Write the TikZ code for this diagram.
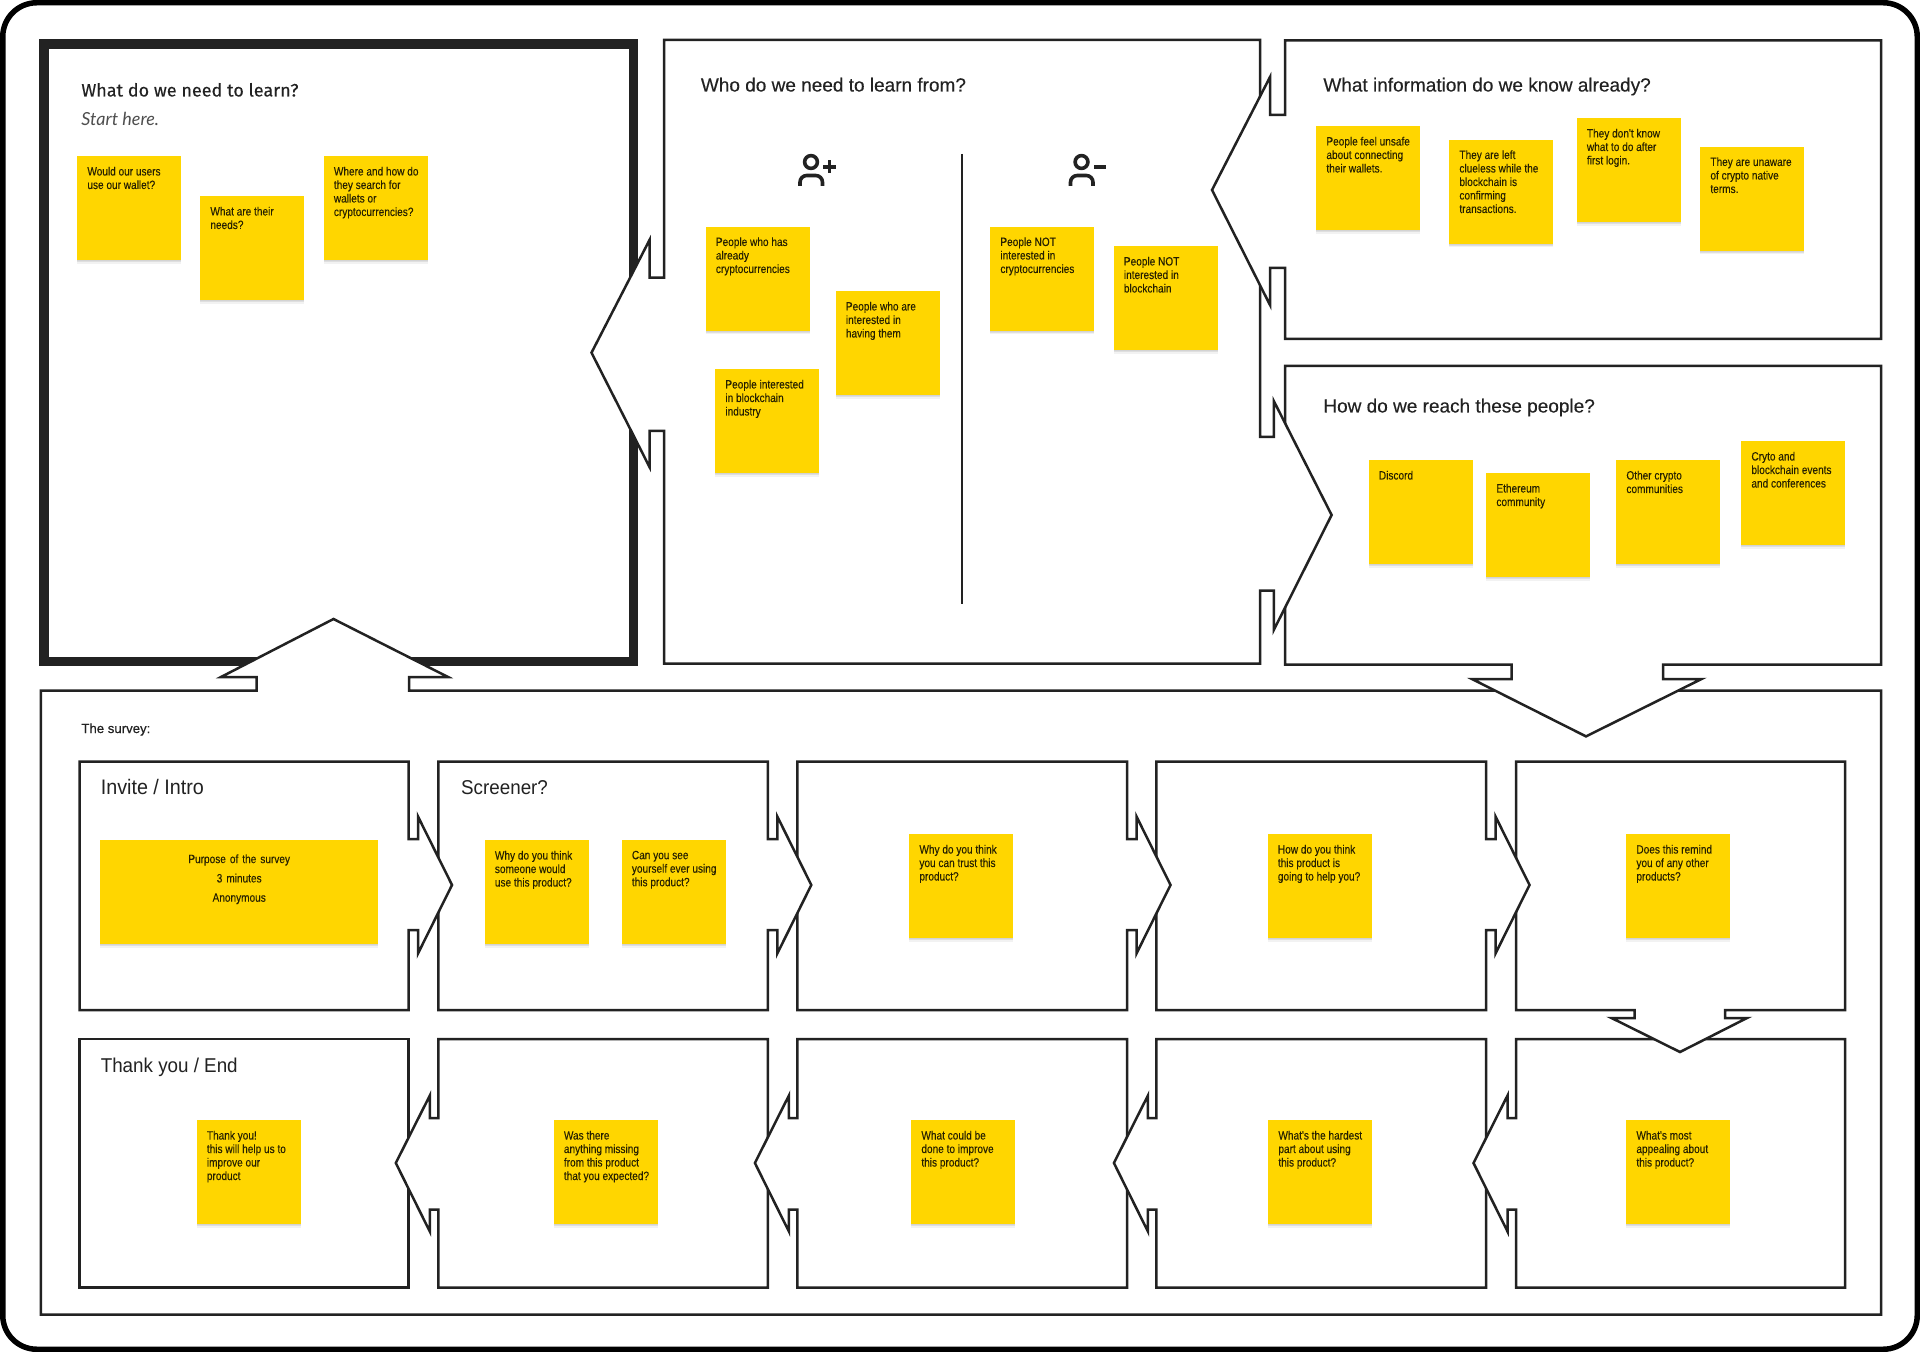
\documentclass[tikz,border=0pt]{standalone}
\usepackage{fontspec}
\usetikzlibrary{shadows}
\setmainfont{Liberation Sans}
\newfontfamily\condf[FakeStretch=0.84,FakeBold=0.12]{Liberation Sans}
\newfontfamily\headf[FakeStretch=0.94]{Liberation Sans}
\newfontfamily\medf[FakeBold=0.3]{Liberation Sans}
\newfontfamily\titilf[FakeBold=0.25]{Fira Sans}
\newfontfamily\startf{Lato}
\definecolor{stickyY}{HTML}{FFD600}
\definecolor{inkc}{HTML}{222222}
\tikzset{
  frameline/.style={draw=inkc,line width=1.25pt,fill=white,line join=miter},
  thickframe/.style={draw=inkc,line width=4.75pt,fill=white},
  stickybox/.style={fill=stickyY,inner sep=0pt,anchor=north west,minimum height=52pt,minimum width=52pt,
    general shadow={fill=black,opacity=.05,shadow xshift=0pt,shadow yshift=-.5pt},
    general shadow={fill=black,opacity=.08,shadow xshift=0pt,shadow yshift=-1pt},
    general shadow={fill=black,opacity=.05,shadow xshift=0pt,shadow yshift=-1.8pt}},
  stickytext/.style={anchor=north west,inner sep=0pt,align=left,text=black!85!stickyY,font=\condf\fontsize{6}{6.75}\selectfont},
  titletext/.style={anchor=base west,inner sep=0pt,text=inkc,font=\medf\fontsize{9.5}{11}\selectfont},
  smalltitle/.style={anchor=base west,inner sep=0pt,text=inkc,font=\headf\fontsize{10}{12}\selectfont},
  iconline/.style={draw=inkc,line width=1.8pt}
}
% \stk{name}{x}{y}{text}
\newcommand{\stk}[4]{%
  \node[stickybox] (#1) at (#2,#3) {};
  \node[stickytext] (#1t) at ([xshift=5pt,yshift=-5.2pt]#1.north west) {#4};
}
\newcommand{\rowbox}[2]{%
  \draw[frameline] (#1,761.5)--(#2,761.5)--(#2,839)--({#2+9.5},839)--({#2+9.5},816.5)--({#2+43.5},885)--({#2+9.5},953.5)--({#2+9.5},930)--(#2,930)--(#2,1010)--(#1,1010)--cycle;
}
\newcommand{\leftbox}[2]{%
  \draw[frameline] (#1,1039)--(#2,1039)--(#2,1287.5)--(#1,1287.5)--(#1,1209.5)--({#1-8.5},1209.5)--({#1-8.5},1231.5)--({#1-42.5},1163)--({#1-8.5},1095.5)--({#1-8.5},1118)--(#1,1118)--cycle;
}
\begin{document}
\begin{tikzpicture}[x=0.5pt,y=-0.5pt]
\useasboundingbox (0,0) rectangle (1920,1352);
\fill[white] (0,0) rectangle (1920,1352);
\draw[black,line width=2.75pt,rounded corners=17pt] (2.75,2.75) rectangle (1917.25,1349.25);

% thick box
\draw[thickframe] (44,44) rectangle (633.5,661.5);

% survey frame
\draw[frameline] (40.8,690.5)--(256.7,690.5)--(256.7,677)--(221,677)--(333.5,619)--(448,677)--(409,677)--(409,690.5)--(1881,690.5)--(1881,1314.5)--(40.8,1314.5)--cycle;

% how box
\draw[frameline] (1285,366)--(1881,366)--(1881,664.5)--(1663,664.5)--(1663,679)--(1701.5,679)--(1586,736.4)--(1472,679)--(1511.5,679)--(1511.5,664.5)--(1285,664.5)--cycle;

% who box
\draw[frameline] (664,40)--(1260,40)--(1260,437)--(1273.8,437)--(1273.8,401)--(1331.6,515)--(1273.8,630)--(1273.8,590.5)--(1260,590.5)--(1260,663.5)--(664,663.5)--(664,431)--(649.5,431)--(649.5,467)--(591.5,352.7)--(649.5,240)--(649.5,277.7)--(664,277.7)--cycle;

% info box
\draw[frameline] (1285,40.5)--(1881,40.5)--(1881,339)--(1285,339)--(1285,268)--(1270,268)--(1270,305)--(1212,190)--(1270,77)--(1270,115)--(1285,115)--cycle;

% survey row 2 (arrows point left)
\draw[frameline] (79.5,1039) rectangle (408.5,1287.5);
\leftbox{438.3}{767.8}
\leftbox{797.4}{1127}
\leftbox{1156.4}{1486}
\leftbox{1516}{1845}

% survey row 1, last box with down arrow
\draw[frameline] (1516,761.5)--(1845,761.5)--(1845,1010)--(1725,1010)--(1725,1018)--(1747,1018)--(1680,1052)--(1611.5,1018)--(1634.5,1018)--(1634.5,1010)--(1516,1010)--cycle;
\rowbox{1156.4}{1486}
\rowbox{797.4}{1127}
\rowbox{438.3}{767.8}
\rowbox{79.5}{408.5}

% divider
\coordinate (divtop) at (962,154);
\coordinate (divbot) at (962,604);
\draw[draw=inkc,line width=1pt] (divtop)--(divbot);

% icons
\draw[iconline] (811,162) circle (3.2pt);
\draw[iconline,rounded corners=3.4pt] (800,186)--(800,175.5)--(822.5,175.5)--(822.5,186);
\draw[iconline] (823,167)--(836,167) (829.5,160.5)--(829.5,173.5);
\draw[iconline] (1081.5,162) circle (3.2pt);
\draw[iconline,rounded corners=3.4pt] (1070.5,186)--(1070.5,175.5)--(1093,175.5)--(1093,186);
\draw[iconline] (1094,167)--(1106,167);

% titles
\node[titletext,font=\titilf\fontsize{9}{11}\selectfont] (t1) at (81,96.5) {What do we need to learn?};
\node[titletext,font=\startf\itshape\fontsize{9}{11}\selectfont,text=inkc!80] (t1b) at (81,125.5) {Start here.};
\node[titletext] (t2) at (700.5,91.5) {Who do we need to learn from?};
\node[titletext] (t3) at (1323,91.5) {What information do we know already?};
\node[titletext] (t4) at (1323,412.5) {How do we reach these people?};
\node[anchor=base west,inner sep=0pt,text=inkc,font=\medf\fontsize{6.6}{8}\selectfont] (t5) at (81,733) {The survey:};
\node[smalltitle,font=\headf\fontsize{10.5}{12}\selectfont] (t6) at (100.4,794) {Invite / Intro};
\node[smalltitle] (t7) at (460.8,794) {Screener?};
\node[smalltitle] (t8) at (100.4,1072) {Thank you / End};

% stickies
\stk{a1}{77}{156}{Would our users\\use our wallet?}
\stk{a2}{200}{196}{What are their\\needs?}
\stk{a3}{323.5}{156}{Where and how do\\they search for\\wallets or\\cryptocurrencies?}
\stk{p1}{705.5}{226.5}{People who has\\already\\cryptocurrencies}
\stk{p2}{835.5}{291}{People who are\\interested in\\having them}
\stk{p3}{715}{369}{People interested\\in blockchain\\industry}
\stk{n1}{990}{226.5}{People NOT\\interested in\\cryptocurrencies}
\stk{n2}{1113.5}{246}{People NOT\\interested in\\blockchain}
\stk{i1}{1316}{126}{People feel unsafe\\about connecting\\their wallets.}
\stk{i2}{1449}{139.5}{They are left\\clueless while the\\blockchain is\\confirming\\transactions.}
\stk{i3}{1576.5}{118}{They don't know\\what to do after\\first login.}
\stk{i4}{1700}{146.5}{They are unaware\\of crypto native\\terms.}
\stk{h1}{1368.5}{460}{Discord}
\stk{h2}{1486}{473}{Ethereum\\community}
\stk{h3}{1616}{460}{Other crypto\\communities}
\stk{h4}{1741}{441}{Cryto and\\blockchain events\\and conferences}

\node[stickybox,minimum width=138.8pt] (big) at (100,840) {};
\node[stickytext,anchor=north,align=center,text width=138.8pt] (bigt) at ([yshift=-7pt]big.north) {Purpose of the survey\\[2.9pt]3 minutes\\[2.9pt]Anonymous};
\stk{s1}{484.5}{840}{Why do you think\\someone would\\use this product?}
\stk{s2}{621.5}{840}{Can you see\\yourself ever using\\this product?}
\stk{r3}{909}{834}{Why do you think\\you can trust this\\product?}
\stk{r4}{1267.5}{834}{How do you think\\this product is\\going to help you?}
\stk{r5}{1626}{834}{Does this remind\\you of any other\\products?}
\stk{b1}{196.5}{1120}{Thank you!\\this will help us to\\improve our\\product}
\stk{b2}{553.5}{1120}{Was there\\anything missing\\from this product\\that you expected?}
\stk{b3}{911}{1120}{What could be\\done to improve\\this product?}
\stk{b4}{1268}{1120}{What's the hardest\\part about using\\this product?}
\stk{b5}{1626}{1120}{What's most\\appealing about\\this product?}
\end{tikzpicture}
\end{document}
